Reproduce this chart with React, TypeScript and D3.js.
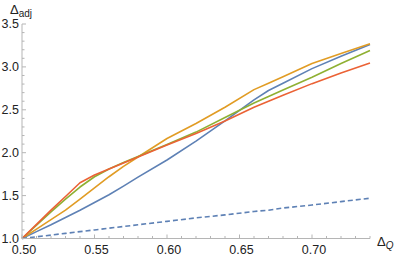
import React from 'react';
import * as d3 from 'd3';

// sample points on the ΔQ axis
const deltaQ = [0.5, 0.51, 0.52, 0.53, 0.54, 0.55, 0.56, 0.57, 0.58, 0.6, 0.62, 0.64, 0.66, 0.67, 0.68, 0.7, 0.72, 0.74];

const blueSeries = [1.0, 1.08, 1.16, 1.245, 1.33, 1.42, 1.51, 1.61, 1.715, 1.915, 2.135, 2.37, 2.615, 2.725, 2.81, 2.98, 3.125, 3.26];
const orangeSeries = [1.0, 1.11, 1.22, 1.33, 1.46, 1.59, 1.72, 1.84, 1.95, 2.165, 2.34, 2.53, 2.735, 2.81, 2.885, 3.04, 3.155, 3.27];
const greenSeries = [1.0, 1.155, 1.31, 1.46, 1.6, 1.72, 1.81, 1.885, 1.955, 2.095, 2.24, 2.41, 2.58, 2.655, 2.73, 2.88, 3.04, 3.19];
const redSeries = [1.0, 1.165, 1.33, 1.49, 1.65, 1.74, 1.81, 1.88, 1.95, 2.09, 2.225, 2.37, 2.53, 2.6, 2.67, 2.805, 2.93, 3.045];
const dashedSeries = [1.0, 1.02, 1.04, 1.06, 1.08, 1.1, 1.12, 1.14, 1.16, 1.2, 1.24, 1.275, 1.315, 1.33, 1.355, 1.39, 1.43, 1.47];

const xTickLabels = ['0.50', '0.55', '0.60', '0.65', '0.70'];
const yTickLabels = ['1.0', '1.5', '2.0', '2.5', '3.0', '3.5'];

const W = 399;
const H = 257;
const FONT = '"Liberation Sans", Arial, sans-serif';
const AXIS = '#b5b5b5';

const App = () => {
  const x = d3.scaleLinear().domain([0.5, 0.74]).range([22, 370]);
  const y = d3.scaleLinear().domain([1, 3.5]).range([238.5, 24]);

  const line = d3.line<number>()
    .x((_, i) => x(deltaQ[i]))
    .y(d => y(d));

  const series = [
    { values: blueSeries, color: '#5e81b5', dash: null },
    { values: orangeSeries, color: '#e19c24', dash: null },
    { values: greenSeries, color: '#8fb032', dash: null },
    { values: redSeries, color: '#eb6235', dash: null },
    { values: dashedSeries, color: '#5e81b5', dash: '5,3' },
  ];

  const xMinor = d3.range(50, 75).map(v => v / 100);
  const yMinor = d3.range(10, 36).map(v => v / 10);

  return (
    <svg width={W} height={H} style={{ position: 'absolute', left: 0, top: 0 }}>
      <rect width={W} height={H} fill="#fff" />

      {/* curves */}
      {series.map((s, i) => (
        <path key={i} d={line(s.values) || ''} fill="none" stroke={s.color}
          strokeWidth={1.6} strokeDasharray={s.dash || undefined} strokeLinejoin="round" />
      ))}

      {/* axes */}
      <line x1={x(0.5)} x2={x(0.74)} y1={y(1)} y2={y(1)} stroke={AXIS} strokeWidth={1} />
      <line x1={x(0.5)} x2={x(0.5)} y1={y(1)} y2={y(3.5)} stroke={AXIS} strokeWidth={1} />

      {xMinor.map((v, i) => {
        const major = Math.round(v * 100) % 5 === 0;
        return <line key={'xt' + i} x1={x(v)} x2={x(v)} y1={y(1)} y2={y(1) - (major ? 4 : 2.5)} stroke={AXIS} />;
      })}
      {yMinor.map((v, i) => {
        const major = Math.round(v * 10) % 5 === 0;
        return <line key={'yt' + i} x1={x(0.5)} x2={x(0.5) + (major ? 4 : 2.5)} y1={y(v)} y2={y(v)} stroke={AXIS} />;
      })}

      {xTickLabels.map(t => (
        <text key={t} x={x(+t) + 2} y={253.5} textAnchor="middle" fontFamily={FONT} fontSize={12.5} fill="#222">{t}</text>
      ))}
      {yTickLabels.map(t => (
        <text key={t} x={19} y={y(+t)} dy="0.33em" textAnchor="end" fontFamily={FONT} fontSize={12.5} fill="#222">{t}</text>
      ))}

      {/* axis labels */}
      <text x={10} y={14} fontFamily={FONT} fontSize={13} fill="#222">
        Δ<tspan fontSize={10} dy={3}>adj</tspan>
      </text>
      <text x={377} y={246} fontFamily={FONT} fontSize={13} fill="#222">
        Δ<tspan fontSize={10} dy={3} fontStyle="italic">Q</tspan>
      </text>
    </svg>
  );
};

export default App;
